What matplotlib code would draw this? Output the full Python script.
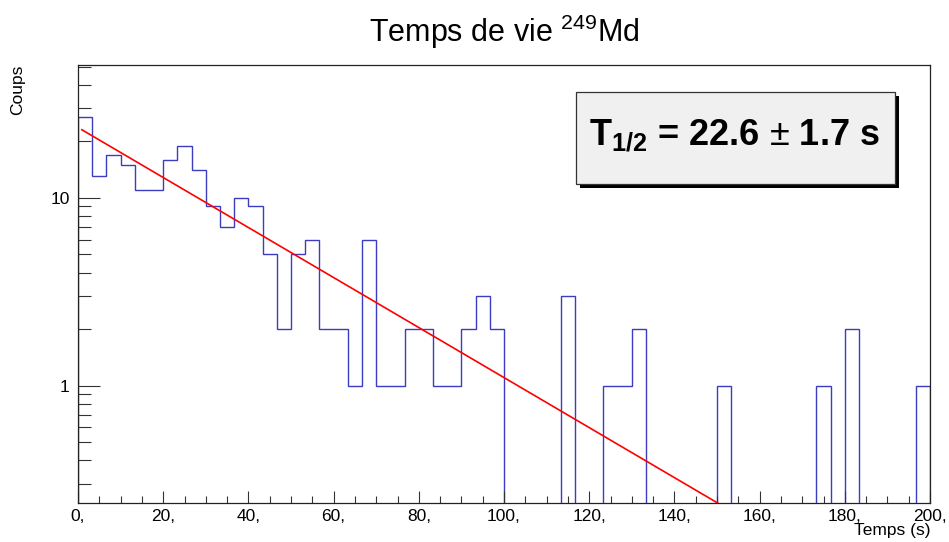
import numpy as np
import matplotlib
matplotlib.use('Agg')
import matplotlib.pyplot as plt
from matplotlib.patches import Rectangle
from matplotlib.ticker import MultipleLocator, LogLocator, FixedLocator, NullFormatter

plt.rcParams['font.family'] = ['Liberation Sans', 'DejaVu Sans']
plt.rcParams['mathtext.fontset'] = 'custom'
plt.rcParams['mathtext.rm'] = 'Liberation Sans'
plt.rcParams['mathtext.it'] = 'Liberation Sans:italic'
plt.rcParams['mathtext.bf'] = 'Liberation Sans:bold'

# histogram: 60 bins of 10/3 s between 0 and 200 s
t_min, t_max, n_bins = 0.0, 200.0, 60
counts = [27, 13, 17, 15, 11, 11, 16, 19, 14, 9,
          7, 10, 9, 5, 2, 5, 6, 2, 2, 1,
          6, 1, 1, 2, 2, 1, 1, 2, 3, 2,
          0, 0, 0, 0, 3, 0, 0, 1, 1, 2,
          0, 0, 0, 0, 0, 1, 0, 0, 0, 0,
          0, 0, 1, 0, 2, 0, 0, 0, 0, 1]

# exponential fit shown in the picture
fit_amp = 23.7
half_life = 22.6
half_life_err = 1.7
fit_start = 0.9

x_ticks = [0, 20, 40, 60, 80, 100, 120, 140, 160, 180, 200]
y_ticks = [1, 10]

W, H = 949, 542
fig = plt.figure(figsize=(W / 100, H / 100), dpi=100)
ax = fig.add_axes([78 / W, 1 - 503 / H, (930 - 78) / W, (503 - 65) / H])

edges = np.linspace(t_min, t_max, n_bins + 1)
vals = np.array(counts, dtype=float)
vals = np.where(vals > 0, vals, 1e-3)
ax.stairs(vals, edges, baseline=1e-3, color='#3c3cc0', lw=1.0)

t = np.linspace(fit_start, t_max, 600)
ax.plot(t, fit_amp * np.exp(-np.log(2) * t / half_life), color='red', lw=1.2)

ax.set_yscale('log')
ax.set_xlim(t_min, t_max)
ax.set_ylim(0.237, 51)

ax.xaxis.set_major_locator(FixedLocator(x_ticks))
ax.set_xticklabels([f'{v},' for v in x_ticks])
ax.xaxis.set_minor_locator(MultipleLocator(5))
ax.yaxis.set_major_locator(FixedLocator(y_ticks))
ax.set_yticklabels([str(v) for v in y_ticks])
ax.yaxis.set_minor_locator(LogLocator(base=10, subs=np.arange(2, 10)))
ax.yaxis.set_minor_formatter(NullFormatter())

ax.tick_params(axis='both', which='both', direction='in', labelsize=12.5,
               width=0.8, color='#333333')
ax.tick_params(axis='x', which='major', length=8.6, pad=4)
ax.tick_params(axis='x', which='minor', length=5)
ax.tick_params(axis='y', which='major', length=16, pad=6)
ax.tick_params(axis='y', which='minor', length=9.4)
ax.tick_params(top=False, right=False, which='both')
for s in ax.spines.values():
    s.set_linewidth(0.9)
    s.set_color('#222222')

fig.text(504 / W, 1 - 42 / H, r'Temps de vie $^{249}$Md', ha='center',
         va='baseline', fontsize=22)
fig.text(930 / W, 1 - 535 / H, 'Temps (s)', ha='right', va='baseline',
         fontsize=12.5)
fig.text(18 / W, 1 - 65 / H, 'Coups', rotation=90, ha='center', va='top',
         fontsize=12.5)

# stat box with shadow
bx0, by0, bx1, by1 = 576, 92, 895, 184
sh = 4
fig.patches.append(Rectangle(((bx0 + sh) / W, 1 - (by1 + sh) / H),
                             (bx1 - bx0) / W, (by1 - by0) / H,
                             transform=fig.transFigure, facecolor='black',
                             edgecolor='none', zorder=5))
fig.patches.append(Rectangle((bx0 / W, 1 - by1 / H), (bx1 - bx0) / W,
                             (by1 - by0) / H, transform=fig.transFigure,
                             facecolor='#f0f0f0', edgecolor='#333333',
                             lw=0.9, zorder=6))
fig.text(734 / W, 1 - 145 / H,
         r'T$_{\mathbf{1/2}}$ = ' + f'{half_life}' + r' $\pm$ ' + f'{half_life_err} s',
         ha='center', va='baseline', fontsize=26, fontweight='bold', zorder=7)

fig.savefig('out.png', dpi=100)
